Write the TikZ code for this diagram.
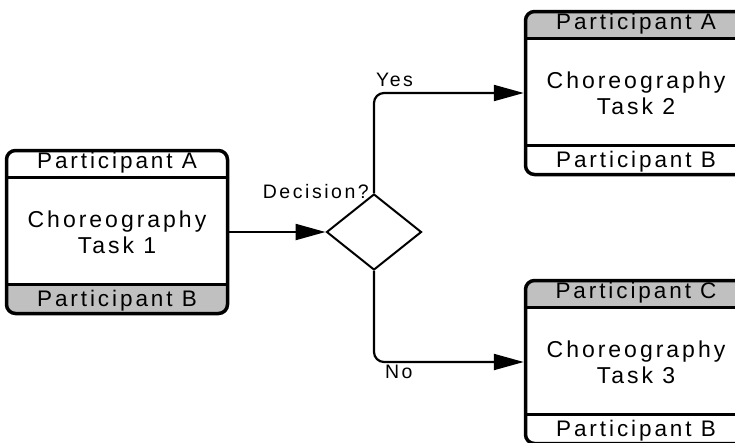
\documentclass[tikz,border=0pt]{standalone}
\usepackage{fontspec}
\setmainfont{Liberation Sans}[LetterSpace=13]
\usetikzlibrary{shapes.geometric, arrows.meta, positioning}
\definecolor{bandgray}{RGB}{192,192,192}

\begin{document}
\begin{tikzpicture}[x=1pt, y=-1pt,
  task/.style={rectangle, draw, line width=3.5pt, rounded corners=9pt,
               minimum width=221pt, minimum height=163pt, inner sep=0pt,
               align=center, font=\fontsize{23}{26}\selectfont},
  bands/.style 2 args={path picture={
    \fill[#1, sharp corners] (path picture bounding box.north west)
      rectangle ([yshift=-27pt]path picture bounding box.north east);
    \fill[#2, sharp corners] ([yshift=29pt]path picture bounding box.south west)
      rectangle (path picture bounding box.south east);
    \draw[line width=3.5pt, sharp corners] ([yshift=-27pt]path picture bounding box.north west)
      -- ([yshift=-27pt]path picture bounding box.north east);
    \draw[line width=3.5pt, sharp corners] ([yshift=29pt]path picture bounding box.south west)
      -- ([yshift=29pt]path picture bounding box.south east);}},
  party/.style={font=\fontsize{22.5}{22.5}\selectfont, inner sep=0pt},
  decision/.style={diamond, draw, line width=2pt, minimum width=95pt,
                   minimum height=76pt, inner sep=0pt},
  flow/.style={-{Triangle[length=30pt,width=16pt]}, line width=2.2pt},
  lbl/.style={font=\fontsize{19.5}{19.5}\selectfont, inner sep=0pt}
]
\useasboundingbox[fill=white] (0,0) rectangle (735,442);

\node[task, bands={white}{bandgray}] (t1) at (117,232) {Choreography\\Task 1};
\node[task, bands={bandgray}{white}] (t2) at (636,93)  {Choreography\\Task 2};
\node[task, bands={bandgray}{white}] (t3) at (636,362) {Choreography\\Task 3};

\node[party] (t1a) at ([yshift=-13.5pt]t1.north) {Participant A};
\node[party] (t1b) at ([yshift=14.5pt]t1.south)  {Participant B};
\node[party] (t2a) at ([yshift=-13.5pt]t2.north) {Participant A};
\node[party] (t2b) at ([yshift=14.5pt]t2.south)  {Participant B};
\node[party] (t3c) at ([yshift=-13.5pt]t3.north) {Participant C};
\node[party] (t3b) at ([yshift=14.5pt]t3.south)  {Participant B};

\node[decision] (dec) at (374,232) {};
\node[lbl, anchor=base east] (q) at ([xshift=-5pt, yshift=-5pt]dec.north) {Decision?};

\draw[flow] (t1) -- (dec);
\draw[flow, rounded corners=10pt] (dec.north) |-
  node[lbl, pos=0.5, anchor=base west, xshift=1pt, yshift=7pt] (yes) {Yes} (t2.west);
\draw[flow, rounded corners=10pt] (dec.south) |-
  node[lbl, pos=0.5, anchor=north west, xshift=10pt, yshift=-2pt] (no) {No} (t3.west);
\end{tikzpicture}
\end{document}
